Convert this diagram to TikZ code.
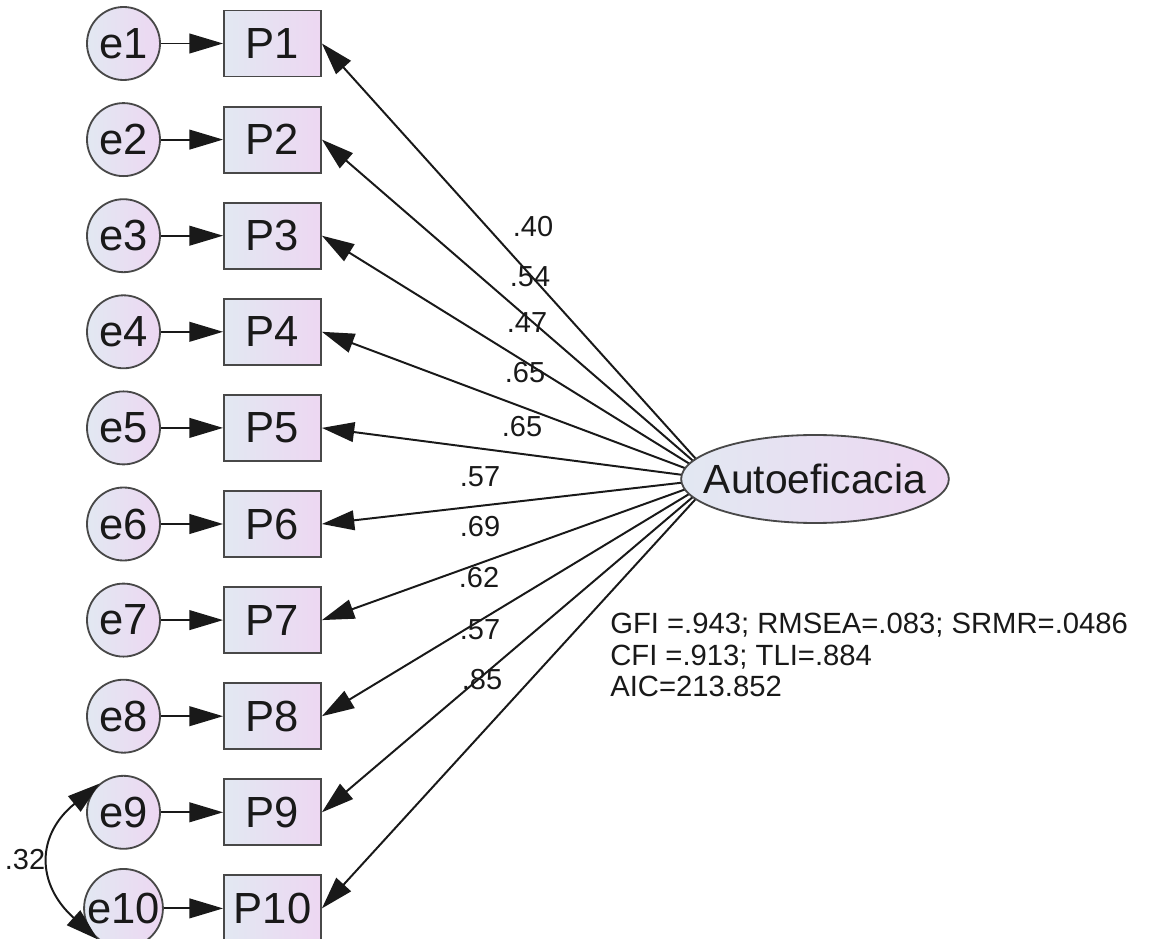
\documentclass[tikz,border=0pt]{standalone}
\usepackage{fontspec}
\setmainfont{Liberation Sans}
\usetikzlibrary{arrows.meta,shapes.geometric}
\definecolor{shadeleft}{RGB}{226,232,242}
\definecolor{shaderight}{RGB}{237,215,242}
\definecolor{rim}{RGB}{72,72,72}
\definecolor{ink}{RGB}{25,25,25}

\begin{document}
\begin{tikzpicture}
  \useasboundingbox[fill=white] (0, 0) rectangle (29.225, -23.475);  % Leinwand wie im Original.
  \clip (0, 0) rectangle (29.225, -23.475);

  \tikzstyle{err}=[circle, draw=rim, line width=1.3pt, minimum size=1.825cm, inner sep=0pt, left color=shadeleft, right color=shaderight, text=ink, font=\fontsize{31}{31}\selectfont]
  \tikzstyle{item}=[rectangle, draw=rim, line width=1.3pt, minimum width=2.425cm, minimum height=1.65cm, inner sep=0pt, left color=shadeleft, right color=shaderight, text=ink, font=\fontsize{31}{31}\selectfont]
  \tikzstyle{latent}=[ellipse, draw=rim, line width=1.3pt, minimum width=6.6cm, minimum height=2.2cm, inner xsep=-0.41cm, inner ysep=0pt, left color=shadeleft, right color=shaderight, text=ink, font=\fontsize{29}{29}\selectfont]
  \tikzstyle{resid}=[draw=ink, line width=1.4pt, -{Triangle[length=24pt, width=14pt]}]
  \tikzstyle{loading}=[draw=ink, line width=1.4pt, -{Triangle[length=23pt, width=14pt]}]
  \tikzstyle{cov}=[draw=ink, line width=1.4pt, {Triangle[length=23pt, width=14pt]}-{Triangle[length=23pt, width=14pt]}]
  \tikzstyle{coef}=[inner sep=0pt, text=ink, font=\fontsize{20.6}{20.6}\selectfont]

  \node[err] (e1)  at (3.0875, -1.0875) {e1};
  \node[err] (e2)  at (3.0875, -3.49)   {e2};
  \node[err] (e3)  at (3.0875, -5.8925) {e3};
  \node[err] (e4)  at (3.0875, -8.295)  {e4};
  \node[err] (e5)  at (3.0875, -10.6975) {e5};
  \node[err] (e6)  at (3.0875, -13.1)   {e6};
  \node[err] (e7)  at (3.0875, -15.5025) {e7};
  \node[err] (e8)  at (3.0875, -17.905) {e8};
  \node[err] (e9)  at (3.0875, -20.3075) {e9};
  \node[err] (e10) at (3.0875, -22.71)  {e10};

  \node[item] (P1)  at (6.8125, -1.0875) {P1};
  \node[item] (P2)  at (6.8125, -3.49)   {P2};
  \node[item] (P3)  at (6.8125, -5.8925) {P3};
  \node[item] (P4)  at (6.8125, -8.295)  {P4};
  \node[item] (P5)  at (6.8125, -10.6975) {P5};
  \node[item] (P6)  at (6.8125, -13.1)   {P6};
  \node[item] (P7)  at (6.8125, -15.5025) {P7};
  \node[item] (P8)  at (6.8125, -17.905) {P8};
  \node[item] (P9)  at (6.8125, -20.3075) {P9};
  \node[item] (P10) at (6.8125, -22.71)  {P10};

  \path (e1) edge[resid] (P1);
  \path (e2) edge[resid] (P2);
  \path (e3) edge[resid] (P3);
  \path (e4) edge[resid] (P4);
  \path (e5) edge[resid] (P5);
  \path (e6) edge[resid] (P6);
  \path (e7) edge[resid] (P7);
  \path (e8) edge[resid] (P8);
  \path (e9) edge[resid] (P9);
  \path (e10) edge[resid] (P10);

  % Ladungen laufen in der Ellipse zusammen, die Ellipse deckt sie danach ab.
  \coordinate (hub) at (17.85, -11.975);
  \path (hub) edge[loading] (P1.east);
  \path (hub) edge[loading] (P2.east);
  \path (hub) edge[loading] (P3.east);
  \path (hub) edge[loading] (P4.east);
  \path (hub) edge[loading] (P5.east);
  \path (hub) edge[loading] (P6.east);
  \path (hub) edge[loading] (P7.east);
  \path (hub) edge[loading] (P8.east);
  \path (hub) edge[loading] (P9.east);
  \path (hub) edge[loading] (P10.east);

  \node[latent] (auto) at (20.375, -11.975) {Autoeficacia};

  \node[coef] (l1)  at (13.325, -5.675) {.40};
  \node[coef] (l2)  at (13.25, -6.925)  {.54};
  \node[coef] (l3)  at (13.175, -8.075) {.47};
  \node[coef] (l4)  at (13.125, -9.325) {.65};
  \node[coef] (l5)  at (13.05, -10.675) {.65};
  \node[coef] (l6)  at (12.0, -11.925)  {.57};
  \node[coef] (l7)  at (12.0, -13.175)  {.69};
  \node[coef] (l8)  at (11.975, -14.45) {.62};
  \node[coef] (l9)  at (12.0, -15.75)   {.57};
  \node[coef] (l10) at (12.05, -17.0)   {.85};

  \draw[cov] (e9.130) .. controls (0.9, -20.875) and (0.9, -22.1) .. (e10.230);
  \node[coef] (r910) at (0.625, -21.5) {.32};

  \node[coef, anchor=north west, align=left, font=\fontsize{20.8}{22.5}\selectfont] (fit) at (15.25, -15.325)
    {GFI =.943; RMSEA=.083; SRMR=.0486\\CFI =.913; TLI=.884\\AIC=213.852};
\end{tikzpicture}
\end{document}
